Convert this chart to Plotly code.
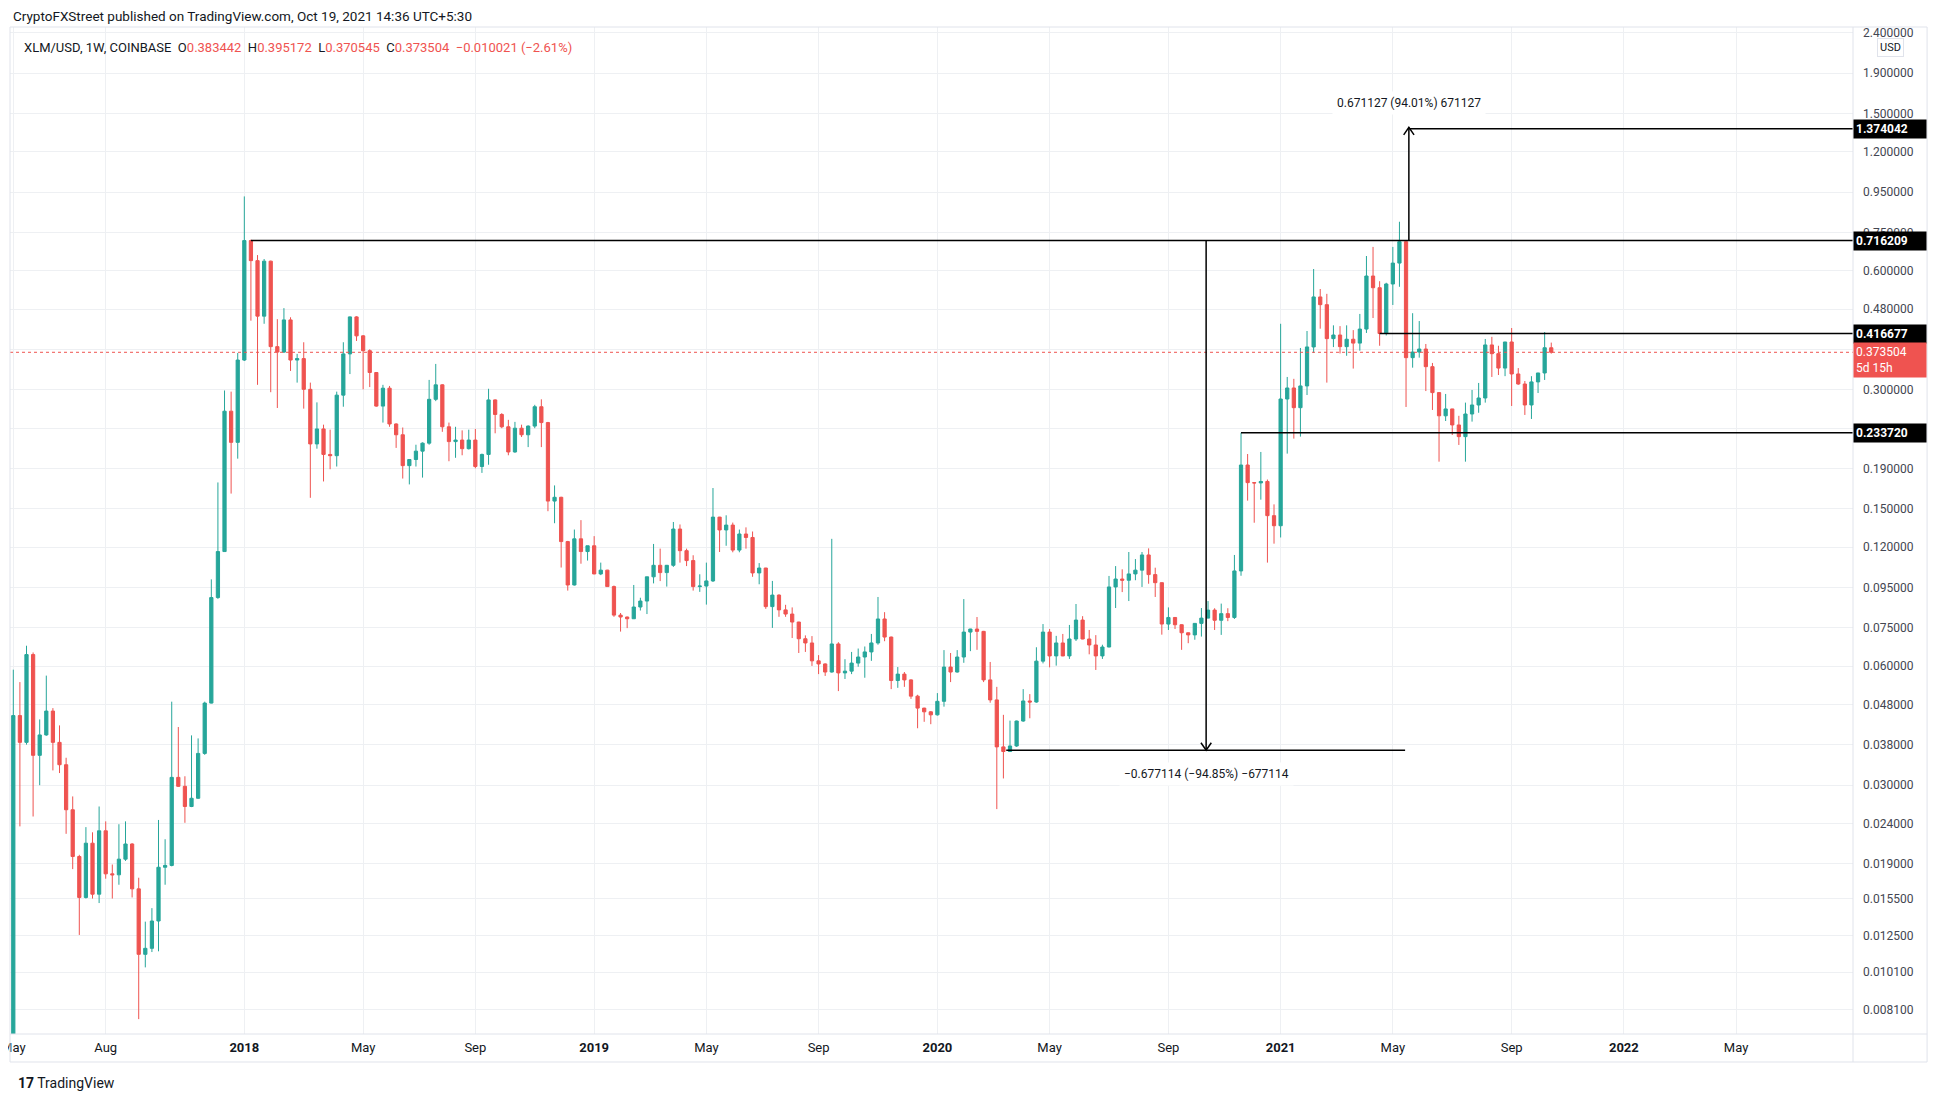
import math
import pandas as pd
import plotly.graph_objects as go


# WEEKLY XLM/USD CANDLES (COINBASE), FIRST BAR = WEEK OF 2017-05-01
first_week = "2017-05-01"

open_ = [
    0.0066, 0.045, 0.0385, 0.0642, 0.0357, 0.0402, 0.0462, 0.0385, 0.0338, 0.026,
    0.0198, 0.0156, 0.0214, 0.0159, 0.0230, 0.0179, 0.0178, 0.0195, 0.0213, 0.0164,
    0.0112, 0.0116, 0.0136, 0.0186, 0.0188, 0.0314, 0.0298, 0.0265, 0.0278, 0.0361,
    0.0484, 0.0895, 0.117, 0.265, 0.221, 0.357, 0.716, 0.637, 0.461, 0.635,
    0.386, 0.374, 0.451, 0.357, 0.360, 0.301, 0.219, 0.239, 0.206, 0.2045,
    0.291, 0.370, 0.459, 0.411, 0.377, 0.332, 0.273, 0.303, 0.246, 0.231,
    0.193, 0.200, 0.210, 0.220, 0.284, 0.309, 0.242, 0.222, 0.224, 0.213,
    0.224, 0.192, 0.206, 0.283, 0.260, 0.242, 0.209, 0.240, 0.231, 0.243,
    0.272, 0.248, 0.157, 0.1605, 0.124, 0.0963, 0.126, 0.117, 0.121, 0.1027,
    0.105, 0.0954, 0.0808, 0.0799, 0.0791, 0.0847, 0.0877, 0.101, 0.108, 0.1035,
    0.108, 0.1334, 0.1176, 0.111, 0.0954, 0.0957, 0.0986, 0.143, 0.1327, 0.1365,
    0.118, 0.1296, 0.127, 0.1033, 0.1063, 0.0849, 0.0908, 0.0833, 0.0813, 0.0776,
    0.0704, 0.0687, 0.0619, 0.0608, 0.058, 0.0683, 0.0577, 0.0583, 0.0611, 0.0633,
    0.0652, 0.0687, 0.079, 0.0711, 0.0552, 0.0573, 0.0554, 0.0504, 0.047, 0.046,
    0.0452, 0.0489, 0.0597, 0.058, 0.0633, 0.0732, 0.0745, 0.0735, 0.0554, 0.0493,
    0.0375, 0.0365, 0.0377, 0.0436, 0.049, 0.0487, 0.0618, 0.0732, 0.0637, 0.0687,
    0.0637, 0.0703, 0.0785, 0.0703, 0.0679, 0.0637, 0.0671, 0.0952, 0.0997, 0.099,
    0.1027, 0.105, 0.1147, 0.1023, 0.0976, 0.0767, 0.0797, 0.0764, 0.0729, 0.072,
    0.077, 0.0794, 0.0832, 0.0784, 0.0815, 0.0797, 0.1045, 0.1937, 0.1748, 0.1745,
    0.176, 0.1442, 0.136, 0.2845, 0.3034, 0.2705, 0.307, 0.3853, 0.5156, 0.4929,
    0.4044, 0.413, 0.386, 0.403, 0.394, 0.4276, 0.5824, 0.544, 0.4167, 0.556,
    0.628, 0.7114, 0.362, 0.374, 0.3806, 0.3435, 0.2953, 0.258, 0.2685, 0.2446,
    0.2285, 0.2607, 0.2748, 0.2862, 0.3898, 0.3705, 0.3407, 0.3966, 0.3292, 0.3105,
    0.2748, 0.3143, 0.3311, 0.383442,
]

high = [
    0.0588, 0.0547, 0.0676, 0.065, 0.044, 0.0568, 0.047, 0.0425, 0.0352, 0.0281,
    0.0200, 0.0235, 0.0228, 0.0265, 0.0243, 0.0189, 0.0239, 0.0243, 0.0214, 0.0175,
    0.01355, 0.01466, 0.0245, 0.0219, 0.0488, 0.0421, 0.0316, 0.0401, 0.0394, 0.0488,
    0.0995, 0.175, 0.299, 0.297, 0.372, 0.926, 0.72, 0.658, 0.643, 0.637,
    0.453, 0.483, 0.458, 0.37, 0.396, 0.313, 0.279, 0.245, 0.238, 0.297,
    0.396, 0.460, 0.461, 0.413, 0.380, 0.333, 0.309, 0.307, 0.247, 0.241,
    0.2005, 0.218, 0.221, 0.318, 0.349, 0.310, 0.248, 0.242, 0.237, 0.238,
    0.239, 0.207, 0.302, 0.284, 0.262, 0.252, 0.249, 0.245, 0.244, 0.275,
    0.284, 0.249, 0.172, 0.161, 0.1245, 0.133, 0.1405, 0.121, 0.128, 0.1097,
    0.1052, 0.096, 0.0818, 0.0801, 0.0963, 0.0894, 0.101, 0.1223, 0.119, 0.1082,
    0.139, 0.137, 0.119, 0.1145, 0.1025, 0.1097, 0.1694, 0.1432, 0.1445, 0.1385,
    0.133, 0.1347, 0.1315, 0.1094, 0.1064, 0.0986, 0.0912, 0.0858, 0.0845, 0.0777,
    0.0718, 0.0715, 0.0640, 0.0610, 0.126, 0.069, 0.0625, 0.0652, 0.0665, 0.0673,
    0.0724, 0.0898, 0.0822, 0.0713, 0.0597, 0.058, 0.0556, 0.0508, 0.0471, 0.0462,
    0.0513, 0.0659, 0.0648, 0.0659, 0.0887, 0.0746, 0.0799, 0.0737, 0.0615, 0.0532,
    0.0452, 0.0437, 0.0437, 0.0525, 0.051, 0.067, 0.0767, 0.0745, 0.0716, 0.0724,
    0.0763, 0.0862, 0.0803, 0.0741, 0.0719, 0.068, 0.1015, 0.1075, 0.1055, 0.1167,
    0.112, 0.1167, 0.1192, 0.1065, 0.0977, 0.0845, 0.0798, 0.0766, 0.073, 0.0771,
    0.0842, 0.0877, 0.0841, 0.0864, 0.0841, 0.1147, 0.2337, 0.2065, 0.175, 0.209,
    0.178, 0.154, 0.441, 0.3235, 0.320, 0.383, 0.4228, 0.6067, 0.54, 0.525,
    0.437, 0.435, 0.437, 0.425, 0.467, 0.6544, 0.69, 0.565, 0.56, 0.69,
    0.799, 0.716, 0.469, 0.448, 0.392, 0.351, 0.2955, 0.293, 0.2687, 0.258,
    0.2786, 0.2999, 0.3124, 0.4036, 0.4087, 0.388, 0.3968, 0.4302, 0.3407, 0.316,
    0.325, 0.3312, 0.4203, 0.395172,
]

low = [
    0.0064, 0.0236, 0.038, 0.025, 0.030, 0.0400, 0.0327, 0.0322, 0.0226, 0.0184,
    0.01254, 0.0155, 0.0155, 0.0151, 0.0174, 0.0155, 0.0168, 0.0193, 0.0156, 0.00768,
    0.01038, 0.01135, 0.0114, 0.0168, 0.0187, 0.0297, 0.0241, 0.0264, 0.0277, 0.0358,
    0.0483, 0.0888, 0.117, 0.164, 0.201, 0.355, 0.449, 0.309, 0.441, 0.296,
    0.270, 0.372, 0.335, 0.313, 0.269, 0.160, 0.213, 0.176, 0.189, 0.192,
    0.272, 0.329, 0.399, 0.301, 0.305, 0.272, 0.248, 0.242, 0.214, 0.179,
    0.173, 0.192, 0.180, 0.218, 0.281, 0.235, 0.198, 0.202, 0.205, 0.212,
    0.190, 0.185, 0.194, 0.233, 0.240, 0.205, 0.208, 0.228, 0.215, 0.240,
    0.215, 0.148, 0.138, 0.1066, 0.0932, 0.096, 0.109, 0.111, 0.1025, 0.102,
    0.0953, 0.080, 0.0734, 0.0749, 0.079, 0.083, 0.0813, 0.0972, 0.0985, 0.0954,
    0.107, 0.1097, 0.1075, 0.0932, 0.0925, 0.0859, 0.098, 0.1167, 0.121, 0.1165,
    0.1165, 0.119, 0.101, 0.0967, 0.0838, 0.075, 0.080, 0.080, 0.0707, 0.0648,
    0.0652, 0.0601, 0.0573, 0.0567, 0.0578, 0.0519, 0.0557, 0.0573, 0.0598, 0.0561,
    0.0619, 0.068, 0.0694, 0.0525, 0.0529, 0.0532, 0.0496, 0.0418, 0.0434, 0.0428,
    0.045, 0.0474, 0.0547, 0.0578, 0.0612, 0.0655, 0.066, 0.0547, 0.0485, 0.0261,
    0.0312, 0.0364, 0.0375, 0.0434, 0.0443, 0.0485, 0.061, 0.0596, 0.0602, 0.0636,
    0.0626, 0.0695, 0.0702, 0.0643, 0.0587, 0.0626, 0.067, 0.0842, 0.0924, 0.0877,
    0.099, 0.0952, 0.097, 0.0898, 0.0721, 0.0741, 0.0745, 0.066, 0.0686, 0.070,
    0.0713, 0.0793, 0.0741, 0.072, 0.078, 0.079, 0.1016, 0.1574, 0.1384, 0.1583,
    0.1097, 0.1225, 0.127, 0.207, 0.2259, 0.2285, 0.2912, 0.372, 0.4285, 0.313,
    0.385, 0.371, 0.366, 0.3397, 0.377, 0.418, 0.456, 0.388, 0.412, 0.492,
    0.547, 0.2716, 0.3415, 0.362, 0.298, 0.2669, 0.1975, 0.2503, 0.2307, 0.2177,
    0.1975, 0.2494, 0.2626, 0.2786, 0.3235, 0.3272, 0.325, 0.2732, 0.309, 0.2593,
    0.2533, 0.2946, 0.3179, 0.370545,
]

close = [
    0.045, 0.0385, 0.0642, 0.0357, 0.0402, 0.0462, 0.0385, 0.0338, 0.026, 0.0198,
    0.0156, 0.0214, 0.0159, 0.0230, 0.0179, 0.0178, 0.0195, 0.0213, 0.0164, 0.0112,
    0.0116, 0.0136, 0.0186, 0.0188, 0.0314, 0.0298, 0.0265, 0.0278, 0.0361, 0.0484,
    0.0895, 0.117, 0.265, 0.221, 0.357, 0.716, 0.637, 0.461, 0.635, 0.386,
    0.374, 0.451, 0.357, 0.360, 0.301, 0.219, 0.239, 0.206, 0.2045, 0.291,
    0.370, 0.459, 0.411, 0.377, 0.332, 0.273, 0.303, 0.246, 0.231, 0.193,
    0.200, 0.210, 0.220, 0.284, 0.309, 0.242, 0.222, 0.224, 0.213, 0.224,
    0.192, 0.206, 0.283, 0.260, 0.242, 0.209, 0.240, 0.231, 0.243, 0.272,
    0.248, 0.157, 0.1605, 0.124, 0.0963, 0.126, 0.117, 0.121, 0.1027, 0.105,
    0.0954, 0.0808, 0.0799, 0.0791, 0.0847, 0.0877, 0.101, 0.108, 0.1035, 0.108,
    0.1334, 0.1176, 0.111, 0.0954, 0.0957, 0.0986, 0.143, 0.1327, 0.1365, 0.118,
    0.1296, 0.127, 0.1033, 0.1063, 0.0849, 0.0908, 0.0833, 0.0813, 0.0776, 0.0704,
    0.0687, 0.0619, 0.0608, 0.058, 0.0683, 0.0577, 0.0583, 0.0611, 0.0633, 0.0652,
    0.0687, 0.079, 0.0711, 0.0552, 0.0573, 0.0554, 0.0504, 0.047, 0.046, 0.0452,
    0.0489, 0.0597, 0.058, 0.0633, 0.0732, 0.0745, 0.0735, 0.0554, 0.0493, 0.0375,
    0.0365, 0.0377, 0.0436, 0.049, 0.0487, 0.0618, 0.0732, 0.0637, 0.0687, 0.0637,
    0.0703, 0.0785, 0.0703, 0.0679, 0.0637, 0.0671, 0.0952, 0.0997, 0.099, 0.1027,
    0.105, 0.1147, 0.1023, 0.0976, 0.0767, 0.0797, 0.0764, 0.0729, 0.072, 0.077,
    0.0794, 0.0832, 0.0784, 0.0815, 0.0797, 0.1045, 0.1937, 0.1748, 0.1745, 0.176,
    0.1442, 0.136, 0.2845, 0.3034, 0.2705, 0.307, 0.3853, 0.5156, 0.4929, 0.4044,
    0.413, 0.386, 0.403, 0.394, 0.4276, 0.5824, 0.544, 0.4167, 0.556, 0.628,
    0.7114, 0.362, 0.374, 0.3806, 0.3435, 0.2953, 0.258, 0.2685, 0.2446, 0.2285,
    0.2607, 0.2748, 0.2862, 0.3898, 0.3705, 0.3407, 0.3966, 0.3292, 0.3105, 0.2748,
    0.3143, 0.3311, 0.383525, 0.373504,
]

dates = pd.date_range(first_week, periods=len(close), freq="7D")

# PRICE AXIS TICKS (TRADINGVIEW LOG SCALE)
price_ticks = [2.4, 1.9, 1.5, 1.2, 0.95, 0.75, 0.6, 0.48, 0.38, 0.3, 0.24, 0.19, 0.15,
               0.12, 0.095, 0.075, 0.06, 0.048, 0.038, 0.03, 0.024, 0.019, 0.0155,
               0.0125, 0.0101, 0.0081]
hidden_ticks = [0.38, 0.24]  # covered by the price labels

# TIME AXIS TICKS (first weekly bar of each labelled month)
time_ticks = ["2017-05-01", "2017-08-07", "2018-01-01", "2018-05-07", "2018-09-03",
              "2019-01-07", "2019-05-06", "2019-09-02", "2020-01-06", "2020-05-04",
              "2020-09-07", "2021-01-04", "2021-05-03", "2021-09-06", "2022-01-03",
              "2022-05-02"]
time_labels = ["May", "Aug", "2018", "May", "Sep", "2019", "May", "Sep", "2020", "May",
               "Sep", "2021", "May", "Sep", "2022", "May"]

# DRAWINGS
x_start, x_end = "2017-04-27 12:00", "2022-09-03"
level_high = 0.716209   # 2018 top, ray from 2018-01-08
level_target = 1.374042  # from 2021-05-20
level_mid = 0.416677    # from 2021-04-19
level_support = 0.233720  # from 2020-11-23
last_price = 0.373504

drop_change, drop_pct = -0.677114, -94.85
rise_change, rise_pct = 0.671127, 94.01
drop_start = -drop_change / (-drop_pct / 100)
drop_end = drop_start + drop_change
rise_start = rise_change / (rise_pct / 100)
rise_end = rise_start + rise_change

UP, DOWN = "#26a69a", "#ef5350"
TXT = "#131722"
GRID = "#eef0f3"
FONT = "Roboto"

fig = go.Figure()

fig.add_trace(go.Candlestick(
    x=dates, open=open_, high=high, low=low, close=close,
    increasing=dict(line=dict(color=UP, width=1), fillcolor=UP),
    decreasing=dict(line=dict(color=DOWN, width=1), fillcolor=DOWN),
    showlegend=False, hoverinfo="skip",
))


def line(xs, ys, color="black", width=1.5, dash="solid"):
    fig.add_trace(go.Scatter(x=xs, y=ys, mode="lines", hoverinfo="skip", showlegend=False,
                             line=dict(color=color, width=width, dash=dash)))


# current price dotted line
line([x_start, x_end], [last_price, last_price], color=DOWN, width=1, dash="dot")

# horizontal levels
line(["2018-01-08", x_end], [level_high, level_high])
line(["2021-05-20", x_end], [level_target, level_target])
line(["2021-04-19", x_end], [level_mid, level_mid])
line(["2020-11-23", x_end], [level_support, level_support])

# price range tool: drop
drop_x = pd.Timestamp("2020-10-17")
line([drop_x, drop_x], [drop_start, drop_end])
line(["2020-03-19", "2021-05-16"], [drop_end, drop_end])
d = pd.Timedelta(days=5.5)
line([drop_x - d, drop_x, drop_x + d], [drop_end * 1.045, drop_end, drop_end * 1.045])

# price range tool: rise
rise_x = pd.Timestamp("2021-05-20")
line([rise_x, rise_x], [rise_start, rise_end])
line([rise_x - d, rise_x, rise_x + d], [rise_end / 1.045, rise_end, rise_end / 1.045])

annotations = []

# measurement labels
annotations.append(dict(
    x=rise_x, xref="x", y=0.9245, yref="paper", xanchor="center", yanchor="middle",
    showarrow=False,
    text=f"{rise_change:.6f} ({rise_pct:.2f}%) {round(rise_change * 1e6)}",
    font=dict(size=12, color=TXT, family=FONT), bgcolor="white", borderpad=4))
annotations.append(dict(
    x=drop_x, xref="x", y=0.2582, yref="paper", xanchor="center", yanchor="middle",
    showarrow=False,
    text=f"\u2212{-drop_change:.6f} (\u2212{-drop_pct:.2f}%) \u2212{round(-drop_change * 1e6)}",
    font=dict(size=12, color=TXT, family=FONT), bgcolor="white", borderpad=4))


# price labels on the axis
def price_label(value, bg, text=None, two_lines=False):
    annotations.append(dict(
        x=1, xref="paper", xanchor="left", y=math.log10(value), yref="y",
        yanchor="top" if two_lines else "middle", yshift=10 if two_lines else 0,
        showarrow=False, align="left", width=68,
        text=text or f"<b>{value:.6f}</b>", bgcolor=bg, borderpad=2,
        font=dict(size=12, color="white", family=FONT)))


price_label(level_target, "black")
price_label(level_high, "black")
price_label(level_mid, "black")
price_label(level_support, "black")
price_label(last_price, DOWN, f"{last_price:.6f}<br>5d 15h", two_lines=True)

# header, legend, footer
annotations.append(dict(
    x=0.0005, y=1.0109, xref="paper", yref="paper", xanchor="left", yanchor="middle",
    showarrow=False, text="CryptoFXStreet published on TradingView.com, Oct 19, 2021 14:36 UTC+5:30",
    font=dict(size=13.5, color=TXT, family=FONT)))

chg = close[-1] - close[-2]
legend_txt = (
    f"XLM/USD, 1W, COINBASE  O<span style='color:{DOWN}'>{open_[-1]:.6f}</span>"
    f"  H<span style='color:{DOWN}'>{high[-1]:.6f}</span>"
    f"  L<span style='color:{DOWN}'>{low[-1]:.6f}</span>"
    f"  C<span style='color:{DOWN}'>{close[-1]:.6f}  \u2212{-chg:.6f} (\u2212{-chg / close[-2] * 100:.2f}%)</span>"
)
annotations.append(dict(
    x=0.0065, y=0.9801, xref="paper", yref="paper", xanchor="left", yanchor="middle",
    showarrow=False, text=legend_txt, font=dict(size=13, color=TXT, family=FONT)))

annotations.append(dict(
    x=1.0201, y=0.9801, xref="paper", yref="paper", xanchor="center", yanchor="middle",
    showarrow=False, text="USD", bgcolor="white", bordercolor="#e0e3eb", borderwidth=1,
    borderpad=2, font=dict(size=11, color=TXT, family=FONT)))

annotations.append(dict(
    x=0.0033, y=-0.0487, xref="paper", yref="paper", xanchor="left", yanchor="middle",
    showarrow=False,
    text="<b>17</b> TradingView", font=dict(size=14, color=TXT, family=FONT)))

# frame around pane + axes
shapes = [
    dict(type="rect", xref="paper", yref="paper", x0=0, x1=1.0402, y0=-0.0278, y1=1,
         line=dict(color="#e0e3eb", width=1)),
    dict(type="line", xref="paper", yref="paper", x0=1, x1=1, y0=-0.0278, y1=1,
         line=dict(color="#e0e3eb", width=1)),
    dict(type="line", xref="paper", yref="paper", x0=0, x1=1.0402, y0=0, y1=0,
         line=dict(color="#e0e3eb", width=1)),
]

fig.update_layout(
    width=1925, height=1087,
    margin=dict(l=2, r=80, t=19, b=61),
    paper_bgcolor="white", plot_bgcolor="white",
    font=dict(family=FONT, color=TXT),
    annotations=annotations, shapes=shapes,
    xaxis=dict(
        type="date", range=[x_start, x_end], rangeslider=dict(visible=False),
        tickmode="array", tickvals=time_ticks,
        ticktext=[f"<b>{t}</b>" if t.isdigit() else t for t in time_labels],
        showgrid=True, gridcolor=GRID, gridwidth=1, zeroline=False, showline=False,
        ticks="", ticklabelstandoff=4, ticklabeloverflow="allow", automargin=False,
        tickfont=dict(size=13, color=TXT, family=FONT),
    ),
    yaxis=dict(
        type="log", side="right", range=[-2.1523, 0.3952], automargin=False,
        tickmode="array", tickvals=price_ticks,
        ticktext=["" if v in hidden_ticks else f"{v:.6f}" for v in price_ticks],
        showgrid=True, gridcolor=GRID, gridwidth=1, zeroline=False, showline=False,
        ticks="", ticklabelstandoff=9, tickfont=dict(size=12, color="#434651", family=FONT),
    ),
)

fig.write_html("out.html")
